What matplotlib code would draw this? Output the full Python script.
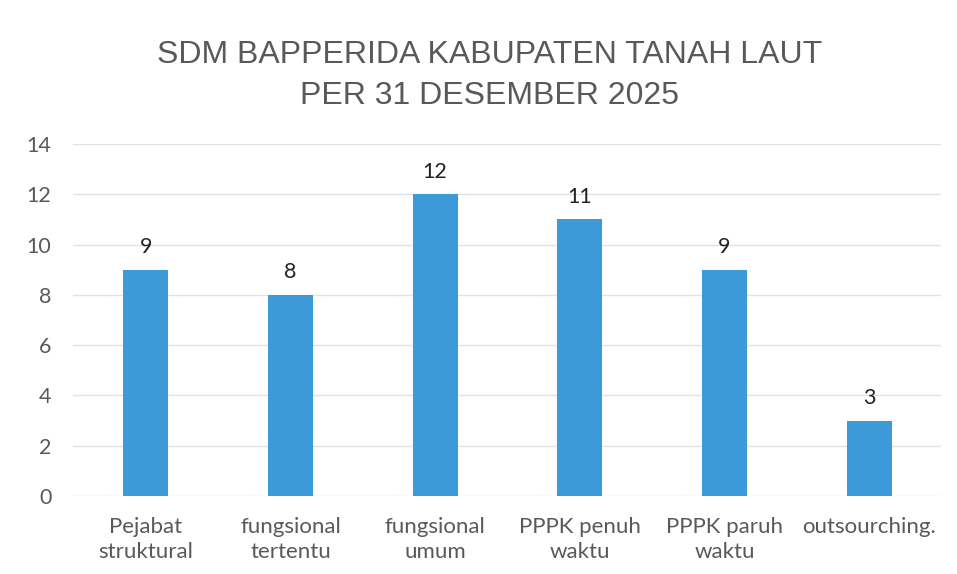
import numpy as np
import matplotlib.pyplot as plt

# data SDM
kategori = ['Pejabat\nstruktural', 'fungsional\ntertentu', 'fungsional\numum',
            'PPPK penuh\nwaktu', 'PPPK paruh\nwaktu', 'outsourching.']
jumlah = [9, 8, 12, 11, 9, 3]
yticks = [0, 2, 4, 6, 8, 10, 12, 14]

fig = plt.figure(figsize=(9.57, 5.74), dpi=100)
ax = fig.add_axes([0.0768, 0.1359, 0.907, 0.6132])

x = np.arange(len(kategori))
bars = ax.bar(x, jumlah, width=0.31, color='#3d9ad8', zorder=3)

# label angka di atas bar
for b, v in zip(bars, jumlah):
    ax.text(b.get_x() + b.get_width() / 2, v + 0.5, str(v), ha='center', va='bottom',
            fontsize=15.5, family='Lato', color='#222222')

ax.set_xlim(-0.5, len(kategori) - 0.5)
ax.set_ylim(0, 14)
ax.set_yticks(yticks)
ax.set_xticks(x)
ax.set_xticklabels(kategori, fontsize=16, family='Lato', color='#595959', linespacing=1.35)
ax.tick_params(axis='y', labelsize=15.5, labelcolor='#595959', length=0, pad=16)
ax.tick_params(axis='x', length=0, pad=15)
for lab in ax.get_yticklabels():
    lab.set_family('Lato')

ax.grid(axis='y', color='#dde3ea', linewidth=1, zorder=0)
for s in ax.spines.values():
    s.set_visible(False)

fig.text(0.512, 0.93, 'SDM BAPPERIDA KABUPATEN TANAH LAUT\nPER 31 DESEMBER 2025',
         ha='center', va='top', fontsize=23, family='Liberation Sans',
         color='#595959', linespacing=1.45)

fig.savefig('out.png', dpi=100, facecolor='white')
